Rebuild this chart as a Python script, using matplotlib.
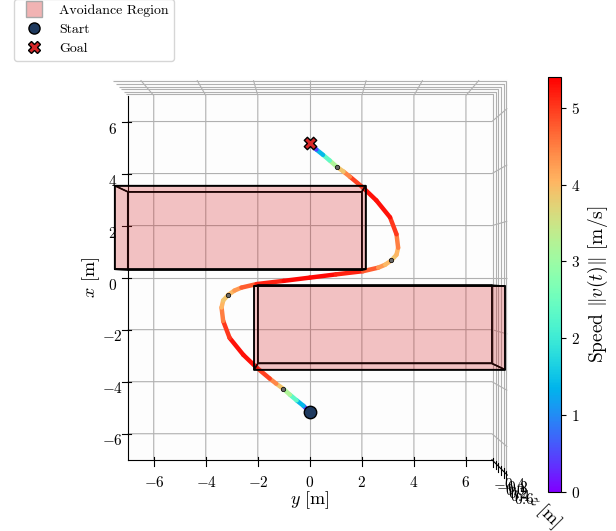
import matplotlib
matplotlib.use("Agg")
import matplotlib.pyplot as plt
import numpy as np
from matplotlib.lines import Line2D
from mpl_toolkits.mplot3d.art3d import Line3DCollection, Poly3DCollection

plt.rcParams["font.family"] = "serif"
plt.rcParams["font.serif"] = ["cmr10"]
plt.rcParams["mathtext.fontset"] = "cm"
plt.rcParams["axes.formatter.use_mathtext"] = True

# trajectory (horizontal = y, vertical = x), speed along it
path_y = [0.00, -0.24, -0.49, -0.74, -1.00, -1.25, -1.49, -1.98, -2.47, -2.98,
          -3.22, -3.28, -3.22, -3.03, -2.80, -2.54, -1.98, -0.97, 0.00,
          0.97, 1.98, 2.54, 2.80, 3.03, 3.22, 3.28, 3.22, 2.98, 2.47,
          1.98, 1.49, 1.25, 1.00, 0.74, 0.49, 0.24, 0.00]
path_x = [-5.00, -4.76, -4.56, -4.35, -4.12, -3.94, -3.75, -3.34, -2.87, -2.24,
          -1.61, -1.11, -0.85, -0.64, -0.48, -0.37, -0.24, -0.12, 0.00,
          0.12, 0.24, 0.37, 0.48, 0.64, 0.85, 1.11, 1.61, 2.24, 2.87,
          3.34, 3.75, 3.94, 4.12, 4.35, 4.56, 4.76, 5.00]
speed = [0.0, 0.9, 1.9, 2.8, 3.6, 4.2, 4.7, 5.2, 5.35, 5.2,
         4.8, 4.2, 3.9, 3.9, 4.1, 4.5, 5.0, 5.3, 5.35,
         5.3, 5.0, 4.5, 4.1, 3.9, 3.9, 4.2, 4.8, 5.2, 5.35,
         5.2, 4.7, 4.2, 3.6, 2.8, 1.9, 0.9, 0.0]

# intermediate waypoints
wp_y = [-1.00, -3.03, 3.03, 1.00]
wp_x = [-4.12, -0.64, 0.64, 4.12]

start = (0.0, -5.0)
goal = (0.0, 5.0)

# avoidance boxes: (y_min, y_max), (x_min, x_max)
box_y = [(-7.0, 2.0), (-2.0, 7.0)]
box_x = [(0.3, 3.3), (-3.3, -0.3)]
box_z = (-0.5, 0.5)
z_lim = (-0.5, 0.66)

speed_max = 5.4


def box_faces(y0, y1, x0, x1, z0, z1):
    c = np.array([[y0, x0, z0], [y1, x0, z0], [y1, x1, z0], [y0, x1, z0],
                  [y0, x0, z1], [y1, x0, z1], [y1, x1, z1], [y0, x1, z1]])
    idx = [[0, 1, 2, 3], [4, 5, 6, 7], [0, 1, 5, 4],
           [2, 3, 7, 6], [1, 2, 6, 5], [0, 3, 7, 4]]
    return [c[i] for i in idx]


fig = plt.figure(figsize=(6.16, 5.31), dpi=100)
ax = fig.add_axes([0.0925, 0.015, 0.8, 0.9], projection="3d")
ax.view_init(elev=90, azim=-90)
ax.set_box_aspect((4, 4, 2.2), zoom=1.168)

for pane in (ax.xaxis, ax.yaxis, ax.zaxis):
    pane.set_pane_color((0.99, 0.99, 0.99, 0.6))

box_face = (0.839, 0.153, 0.157, 0.15)
for (y0, y1), (x0, x1) in zip(box_y, box_x):
    poly = Poly3DCollection(box_faces(y0, y1, x0, x1, *box_z),
                            facecolor=box_face, edgecolor="black",
                            linewidth=1.1)
    ax.add_collection3d(poly)

norm = plt.Normalize(0, speed_max)
cmap = plt.get_cmap("rainbow")
pts = np.column_stack([path_y, path_x, np.zeros(len(path_y))])
segs = np.stack([pts[:-1], pts[1:]], axis=1)
sp = np.array(speed)
lc = Line3DCollection(segs, colors=cmap(norm(0.5 * (sp[:-1] + sp[1:]))),
                      linewidth=3.2, capstyle="round", joinstyle="round")
ax.add_collection3d(lc)

ax.scatter(wp_y, wp_x, [0] * len(wp_y), s=10, c="dimgray",
           edgecolors="black", linewidths=0.5, depthshade=False)
ax.scatter([start[0]], [start[1]], [0], s=80, c="#1f3a5f",
           edgecolors="black", linewidths=1.0, depthshade=False)
ax.scatter([goal[0]], [goal[1]], [0], s=80, marker="X", c="#d62728",
           edgecolors="black", linewidths=1.0, depthshade=False)

ax.set_xlim(-7, 7)
ax.set_ylim(-7, 7)
ax.set_zlim(*z_lim)
ax.set_xticks([-6, -4, -2, 0, 2, 4, 6])
ax.set_yticks([-6, -4, -2, 0, 2, 4, 6])
ax.tick_params(labelsize=11, pad=0)
ax.zaxis.set_ticks_position("lower")
ax.zaxis.set_label_position("lower")
ax.set_xlabel("$y$ [m]", fontsize=13, labelpad=0)
ax.set_ylabel("$x$ [m]", fontsize=13, labelpad=-2)
ax.set_zlabel("$z$ [m]", fontsize=13, labelpad=0)

cax = fig.add_axes([0.890, 0.0734, 0.0211, 0.7815])
sm = plt.cm.ScalarMappable(norm=norm, cmap=cmap)
cb = fig.colorbar(sm, cax=cax)
cb.set_label(r"Speed $\|v(t)\|$ [m/s]", fontsize=14)
cb.ax.tick_params(labelsize=11)

handles = [
    Line2D([], [], marker="s", linestyle="none", markerfacecolor=(0.945, 0.70, 0.70),
           markeredgecolor="darkgray", markersize=11, label="Avoidance Region"),
    Line2D([], [], marker="o", linestyle="none", markerfacecolor="#1f3a5f",
           markeredgecolor="black", markersize=8, label="Start"),
    Line2D([], [], marker="X", linestyle="none", markerfacecolor="#d62728",
           markeredgecolor="black", markersize=8, label="Goal"),
]
fig.legend(handles=handles, loc="upper left", bbox_to_anchor=(0.012, 1.015),
           fontsize=10, labelspacing=0.45, frameon=True)

fig.savefig("out.png", dpi=100)
